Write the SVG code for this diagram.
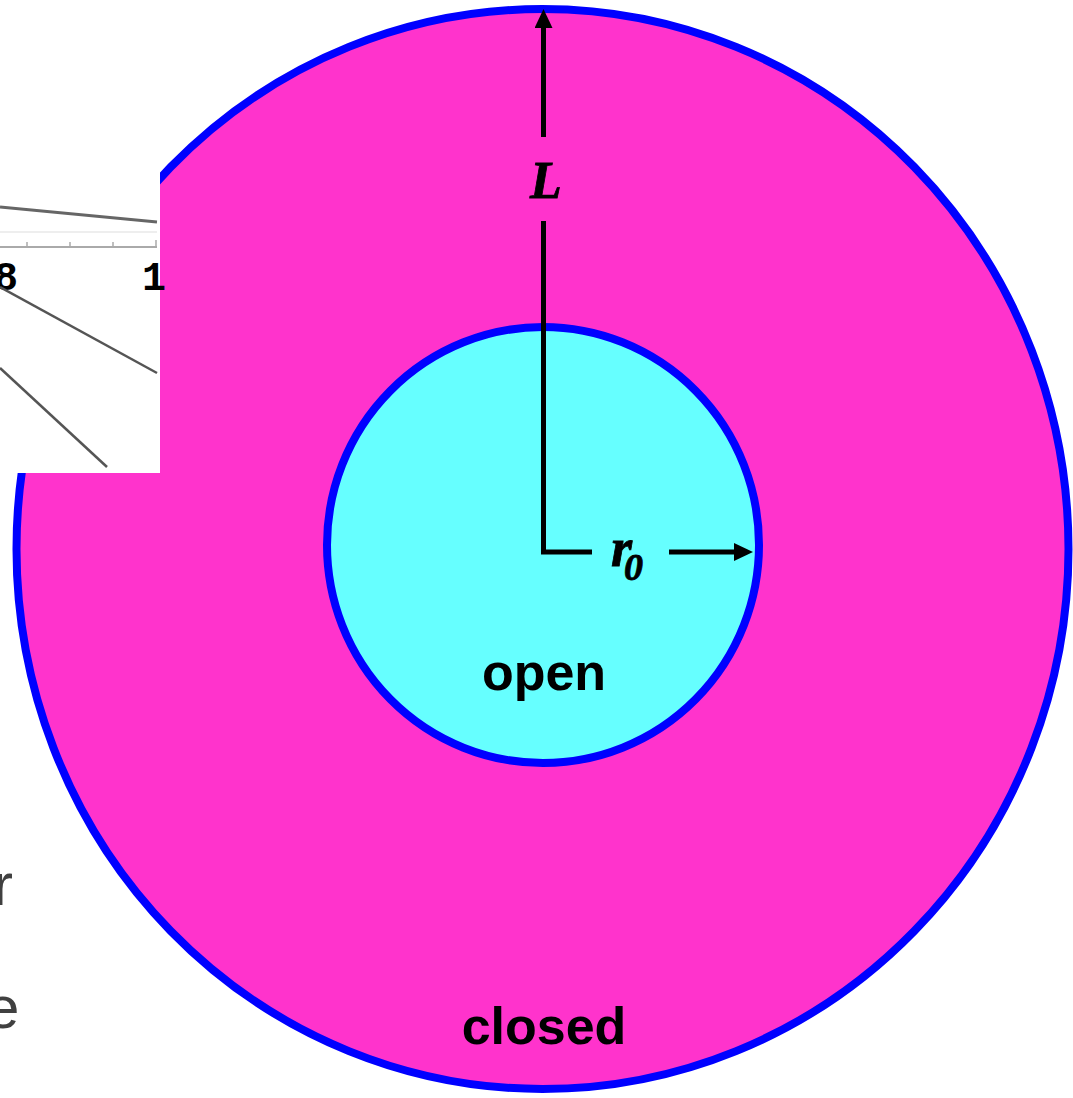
<svg xmlns="http://www.w3.org/2000/svg" width="1073" height="1098" viewBox="0 0 1073 1098">
<style>
.ring{stroke:#0000FF;stroke-width:8}
.lbl{font-family:"Liberation Sans",Arial,sans-serif;font-weight:bold;font-size:52px;fill:#000;text-anchor:middle}
.it{font-family:"Liberation Serif","Times New Roman",serif;font-weight:bold;font-style:italic;fill:#000;stroke:#000;stroke-width:0.8}
.ln{stroke:#000;stroke-width:5;fill:none}
.bg{font-family:"Liberation Sans",Arial,sans-serif;font-size:60px;fill:#404040}
.pix{font-family:"Liberation Mono","Courier New",monospace;font-weight:bold;font-size:40px;fill:#000}
.g{stroke:#555;stroke-width:2.5}
</style>
<defs>
<marker id="ah" markerWidth="19" markerHeight="18" refX="0" refY="9" orient="auto" markerUnits="userSpaceOnUse" viewBox="0 0 19 18">
<path d="M0,0 L19,9 L0,18 z" fill="#000"/>
</marker>
</defs>
<rect width="1073" height="1098" fill="#fff"/>
<g id="background-text">
<text class="bg" x="-7" y="905">r</text>
<text class="bg" x="-14" y="1028">e</text>
</g>
<g id="closed">
<ellipse class="ring" cx="542.5" cy="549" rx="526" ry="540" fill="#FF33CC"/>
<text class="lbl" x="544" y="1044">closed</text>
</g>
<g id="inset">
<rect x="0" y="172" width="160" height="301" fill="#fff"/>
<line x1="0" y1="232" x2="157" y2="232" stroke="#eee" stroke-width="2"/>
<line x1="0" y1="207" x2="157" y2="222" stroke="#666" stroke-width="3"/>
<line x1="0" y1="247" x2="157" y2="247" stroke="#aaa" stroke-width="2"/>
<line x1="27" y1="242" x2="27" y2="247" stroke="#aaa" stroke-width="1.5"/>
<line x1="70" y1="242" x2="70" y2="247" stroke="#aaa" stroke-width="1.5"/>
<line x1="113" y1="242" x2="113" y2="247" stroke="#aaa" stroke-width="1.5"/>
<line x1="156" y1="240" x2="156" y2="247" stroke="#aaa" stroke-width="1.5"/>
<text class="pix" x="-6" y="290">8</text>
<text class="pix" x="142" y="290">1</text>
<line class="g" x1="0" y1="287" x2="157" y2="373"/>
<line class="g" x1="0" y1="368" x2="107" y2="467"/>
</g>
<g id="open">
<ellipse class="ring" cx="543" cy="545" rx="216" ry="218" fill="#66FFFF"/>
<text class="lbl" x="544" y="690">open</text>
</g>
<g id="connectors">
<line class="ln" x1="543.5" y1="137" x2="543.5" y2="28" marker-end="url(#ah)"/>
<polyline class="ln" points="543.5,221 543.5,552 592,552"/>
<line class="ln" x1="669" y1="552" x2="734" y2="552" marker-end="url(#ah)"/>
</g>
<g id="labels">
<text class="it" x="546" y="198" font-size="52" text-anchor="middle">L</text>
<text class="it" x="611" y="566" font-size="54">r</text>
<text class="it" x="624" y="580" font-size="38">0</text>
</g>
</svg>
